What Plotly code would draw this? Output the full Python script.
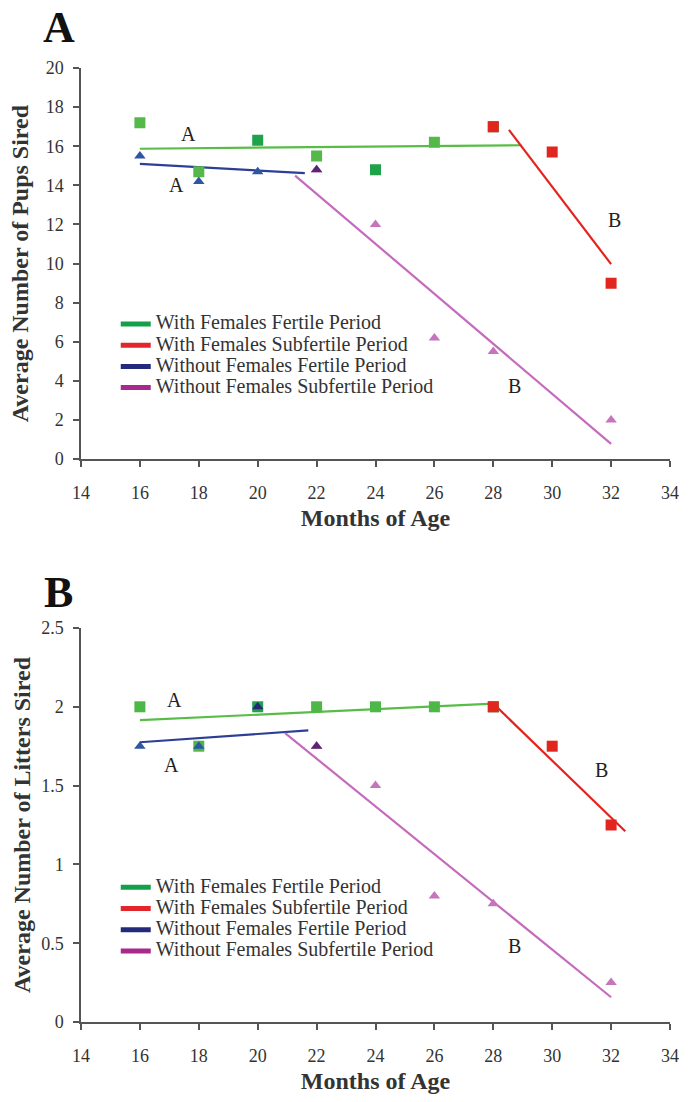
import plotly.graph_objects as go

# ---------------- data ----------------
# Panel A: average number of pups sired
wf_months = [16, 18, 20, 22, 24, 26, 28]
pups_with_fertile = [17.2, 14.7, 16.3, 15.5, 14.8, 16.2, 17.0]
ws_months = [28, 30, 32]
pups_with_subfertile = [17.0, 15.7, 9.0]
nf_months = [16, 18, 20, 22]
pups_without_fertile = [15.5, 14.2, 14.7, 14.8]
ns_months = [22, 24, 26, 28, 32]
pups_without_subfertile = [14.8, 12.0, 6.2, 5.5, 2.0]

# Panel A trend lines (end points)
pups_trend_wf_x = [16, 28.96]
pups_trend_wf_y = [15.87, 16.05]
pups_trend_ws_x = [28.53, 32]
pups_trend_ws_y = [16.84, 9.97]
pups_trend_nf_x = [16, 21.6]
pups_trend_nf_y = [15.1, 14.62]
pups_trend_ns_x = [21.27, 32]
pups_trend_ns_y = [14.5, 0.78]

# Panel B: average number of litters sired
litters_with_fertile = [2.0, 1.75, 2.0, 2.0, 2.0, 2.0, 2.0]
litters_with_subfertile = [2.0, 1.75, 1.25]
litters_without_fertile = [1.75, 1.75, 2.0, 1.75]
litters_without_subfertile = [1.75, 1.5, 0.8, 0.75, 0.25]

lit_trend_wf_x = [16, 28.0]
lit_trend_wf_y = [1.915, 2.02]
lit_trend_ws_x = [28.0, 32.48]
lit_trend_ws_y = [2.02, 1.21]
lit_trend_nf_x = [16, 21.72]
lit_trend_nf_y = [1.775, 1.85]
lit_trend_ns_x = [20.93, 32]
lit_trend_ns_y = [1.833, 0.157]

# significance group labels
pups_labels = ["A", "A", "B", "B"]
pups_label_x = [17.66, 17.23, 32.13, 28.72]
pups_label_y = [16.65, 14.0, 12.25, 3.74]
lit_labels = ["A", "A", "B", "B"]
lit_label_x = [17.17, 17.06, 31.66, 28.72]
lit_label_y = [2.04, 1.63, 1.60, 0.48]

series_names = ["With Females Fertile Period", "With Females Subfertile Period",
                "Without Females Fertile Period", "Without Females Subfertile Period"]
x_ticks = [14, 16, 18, 20, 22, 24, 26, 28, 30, 32, 34]

# ---------------- styles ----------------
SERIF = "Liberation Serif"
C_GREEN_L = "#58bd46"
C_RED_L = "#e5231e"
C_BLUE_L = "#2c3f95"
C_PURP_L = "#c56bbd"
LEG_COLORS = ["#12a04b", "#e2262b", "#232a7c", "#a9288c"]

fig = go.Figure()


def add_panel(xa, ya, legend_name, wf, ws, nf, ns, trends, green_cols, blue_cols):
    # trend lines
    for (tx, ty), col in zip(trends, [C_GREEN_L, C_RED_L, C_BLUE_L, C_PURP_L]):
        fig.add_trace(go.Scatter(x=tx, y=ty, mode="lines", line=dict(color=col, width=2.2),
                                 showlegend=False, xaxis=xa, yaxis=ya, hoverinfo="skip"))
    # markers
    fig.add_trace(go.Scatter(x=ns_months, y=ns, mode="markers",
                             marker=dict(symbol="triangle-up", size=10, color="#c674bc"),
                             showlegend=False, xaxis=xa, yaxis=ya))
    fig.add_trace(go.Scatter(x=wf_months, y=wf, mode="markers",
                             marker=dict(symbol="square", size=11, color=green_cols),
                             showlegend=False, xaxis=xa, yaxis=ya))
    fig.add_trace(go.Scatter(x=ws_months, y=ws, mode="markers",
                             marker=dict(symbol="square", size=11, color="#e1251f"),
                             showlegend=False, xaxis=xa, yaxis=ya))
    fig.add_trace(go.Scatter(x=nf_months, y=nf, mode="markers",
                             marker=dict(symbol="triangle-up", size=10, color=blue_cols),
                             showlegend=False, xaxis=xa, yaxis=ya))
    # legend entries
    for name, col in zip(series_names, LEG_COLORS):
        fig.add_trace(go.Scatter(x=[None], y=[None], mode="lines",
                                 line=dict(color=col, width=5),
                                 name='<span style="font-size:20px">' + name + '</span>',
                                 legend=legend_name, xaxis=xa, yaxis=ya, showlegend=True))


add_panel("x", "y", "legend",
          pups_with_fertile, pups_with_subfertile, pups_without_fertile, pups_without_subfertile,
          [(pups_trend_wf_x, pups_trend_wf_y), (pups_trend_ws_x, pups_trend_ws_y),
           (pups_trend_nf_x, pups_trend_nf_y), (pups_trend_ns_x, pups_trend_ns_y)],
          ["#55b94a", "#55b94a", "#1fa24a", "#55b94a", "#1fa24a", "#55b94a", "#1fa24a"],
          ["#2f55a4", "#2f55a4", "#2f55a4", "#5b2675"])
add_panel("x2", "y2", "legend2",
          litters_with_fertile, litters_with_subfertile, litters_without_fertile, litters_without_subfertile,
          [(lit_trend_wf_x, lit_trend_wf_y), (lit_trend_ws_x, lit_trend_ws_y),
           (lit_trend_nf_x, lit_trend_nf_y), (lit_trend_ns_x, lit_trend_ns_y)],
          ["#4db848", "#4db848", "#1fa24a", "#4db848", "#4db848", "#4db848", "#1fa24a"],
          ["#2f55a4", "#2f55a4", "#262878", "#5b2675"])

annotations = []
for t, x, y in zip(pups_labels, pups_label_x, pups_label_y):
    annotations.append(dict(text=t, x=x, y=y, xref="x", yref="y", showarrow=False,
                            font=dict(family=SERIF, size=20, color="#222")))
for t, x, y in zip(lit_labels, lit_label_x, lit_label_y):
    annotations.append(dict(text=t, x=x, y=y, xref="x2", yref="y2", showarrow=False,
                            font=dict(family=SERIF, size=20, color="#222")))
annotations.append(dict(text="<b>A</b>", x=-0.037, y=1.0427, xref="paper", yref="paper",
                        showarrow=False, xanchor="center", yanchor="middle",
                        font=dict(family=SERIF, size=44, color="#111")))
annotations.append(dict(text="<b>B</b>", x=-0.039, y=0.4506, xref="paper", yref="paper",
                        showarrow=False, xanchor="center", yanchor="middle",
                        font=dict(family=SERIF, size=44, color="#111")))

axis_common = dict(showline=True, linecolor="#555", linewidth=1.5, ticks="outside",
                   ticklen=6, tickwidth=1.5, tickcolor="#555", showgrid=False,
                   zeroline=False, tickfont=dict(family=SERIF, size=18, color="#333"))

xa = dict(axis_common, range=[14, 34], tickvals=x_ticks, ticklabelstandoff=11,
          title=dict(text="<b>Months of Age</b>", font=dict(family=SERIF, size=24, color="#333"),
                     standoff=7))
fig.update_layout(
    width=697, height=1102,
    margin=dict(l=81, r=27, t=68, b=73),
    paper_bgcolor="white", plot_bgcolor="white",
    xaxis=dict(xa, anchor="y"),
    xaxis2=dict(xa, anchor="y2"),
    yaxis=dict(axis_common, range=[0, 20], dtick=2, domain=[0.59, 1.0], anchor="x",
               ticklabelstandoff=6,
               title=dict(text="<b>Average Number of Pups Sired</b>",
                          font=dict(family=SERIF, size=24, color="#333"), standoff=10)),
    yaxis2=dict(axis_common, range=[0, 2.5], dtick=0.5, domain=[0.0, 0.413], anchor="x2",
                ticklabelstandoff=6,
                title=dict(text="<b>Average Number of Litters Sired</b>",
                           font=dict(family=SERIF, size=24, color="#333"), standoff=4)),
    legend=dict(x=0.059, y=0.748, xanchor="left", yanchor="top", bgcolor="rgba(0,0,0,0)",
                font=dict(family=SERIF, size=14, color="#333"), borderwidth=0),
    legend2=dict(x=0.059, y=0.1575, xanchor="left", yanchor="top", bgcolor="rgba(0,0,0,0)",
                 font=dict(family=SERIF, size=14, color="#333"), borderwidth=0),
    annotations=annotations,
    showlegend=True,
)

fig.write_html("out.html", config={"displayModeBar": False},
               post_script="document.body.style.margin='0';document.body.style.padding='0';")
